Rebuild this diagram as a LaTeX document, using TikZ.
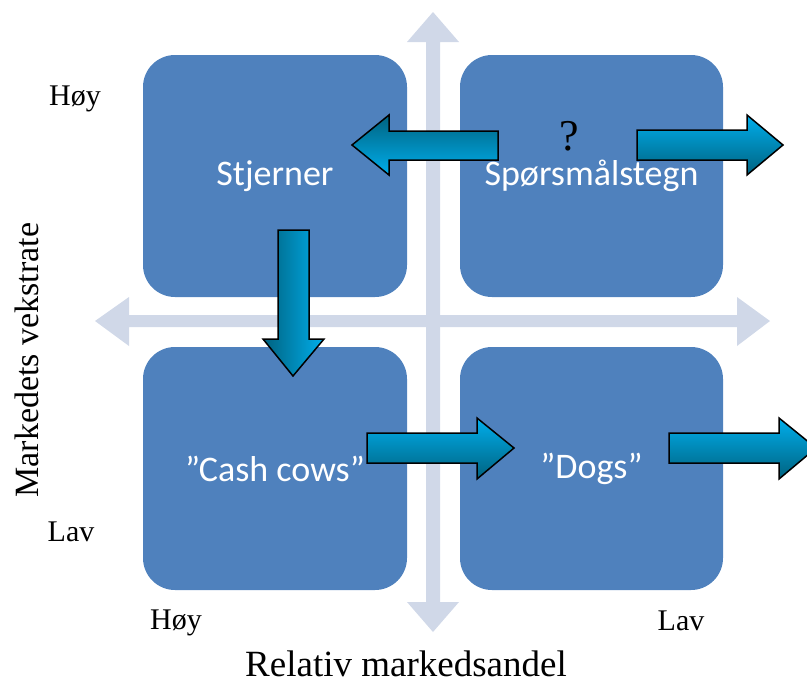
\documentclass[tikz,border=0pt]{standalone}
\usepackage{fontspec}
\setmainfont{Liberation Serif}
\newfontfamily\boxfont{Carlito}
\definecolor{boxblue}{HTML}{4F81BD}
\definecolor{axisgrey}{HTML}{D0D8E8}
\definecolor{arrowdark}{HTML}{00627F}
\definecolor{arrowlight}{HTML}{00AEEC}
\tikzstyle{quadrant}=[
    fill=boxblue,
    rounded corners=32pt,
    minimum width=264pt,
    minimum height=242pt,
    inner sep=0pt,
    text=white,
    font=\boxfont\fontsize{36}{40}\selectfont,
]
\tikzstyle{axislabel}=[anchor=base, inner sep=0pt, font=\fontsize{30}{34}\selectfont]
\tikzstyle{blockarrow}=[draw=black, line width=1.5pt, line join=miter]

\begin{document}
\begin{tikzpicture}[x=1pt, y=-1pt]
        \useasboundingbox (0,0) rectangle (807,686);
        % axes
        \fill[axisgrey] (426,42) -- (407,42) -- (433,12) -- (459,42) -- (440,42) -- (440,602)
            -- (459,602) -- (433,632) -- (407,602) -- (426,602) -- cycle;
        \fill[axisgrey] (129,315) -- (129,297) -- (95,321) -- (129,346) -- (129,327) -- (737,327)
            -- (737,346) -- (770,321) -- (737,297) -- (737,315) -- cycle;
        % quadrants
        \node[quadrant] (stars) at (275,176) {Stjerner};
        \node[quadrant, minimum width=263pt] (question) at (591.5,176) {Spørsmålstegn};
        \node[quadrant, minimum height=243pt] (cows) at (275,468.5) {”Cash cows”};
        \node[quadrant, minimum width=263pt, minimum height=243pt] (dogs) at (591.5,468.5) {”Dogs”};
        \node[axislabel, font=\fontsize{44}{48}\selectfont] (query) at (569,150) {?};
        % labels
        \node[axislabel] (highy) at (75,105) {Høy};
        \node[axislabel] (lowy) at (71,541) {Lav};
        \node[axislabel] (highx) at (176,629) {Høy};
        \node[axislabel] (lowx) at (681,630) {Lav};
        \node[rotate=90, font=\fontsize{34}{38}\selectfont] (ylabel) at (27,360) {Markedets vekstrate};
        \node[axislabel, font=\fontsize{37}{40}\selectfont] (xlabel) at (406,676) {Relativ markedsandel};
        % block arrows
        \path[blockarrow, top color=arrowdark, bottom color=arrowlight]
            (498,131) -- (389,131) -- (389,115) -- (352,145) -- (389,175) -- (389,160) -- (498,160) -- cycle;
        \path[blockarrow, top color=arrowlight, bottom color=arrowdark]
            (637,130) -- (747,130) -- (747,115) -- (783,145) -- (747,175) -- (747,160) -- (637,160) -- cycle;
        \path[blockarrow, left color=arrowdark, right color=arrowlight]
            (278,230) -- (309,230) -- (309,339) -- (324,339) -- (293,376) -- (263,339) -- (278,339) -- cycle;
        \path[blockarrow, top color=arrowlight, bottom color=arrowdark]
            (367,433) -- (477,433) -- (477,418) -- (514,448) -- (477,479) -- (477,463) -- (367,463) -- cycle;
        \path[blockarrow, top color=arrowlight, bottom color=arrowdark]
            (669,433) -- (779,433) -- (779,418) -- (816,448) -- (779,479) -- (779,463) -- (669,463) -- cycle;
    \end{tikzpicture}
\end{document}
